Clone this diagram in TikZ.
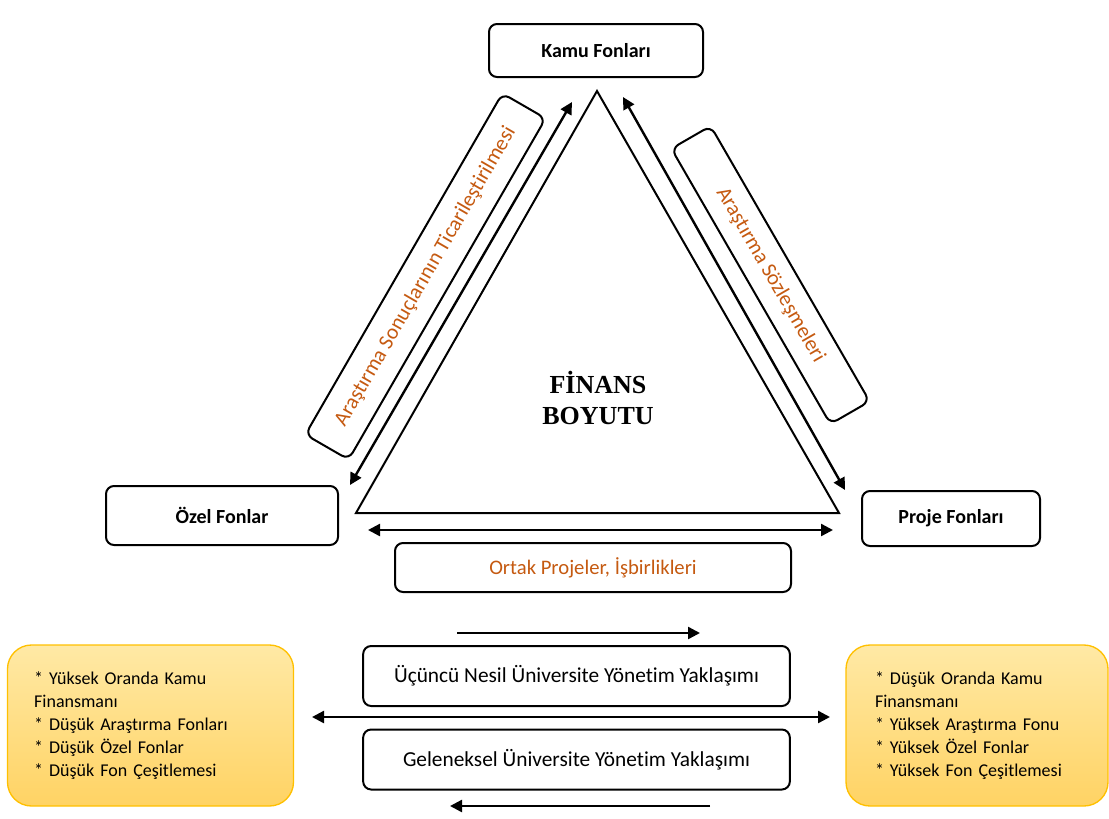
\documentclass[tikz,border=0pt]{standalone}
\usepackage{fontspec}
\setmainfont{Carlito}[Ligatures=NoCommon]
\newfontfamily\timesfont{Liberation Serif}
\usetikzlibrary{shapes}
\usetikzlibrary{arrows.meta}
\definecolor{etiketturuncu}{RGB}{197,90,17}
\definecolor{notkenar}{RGB}{255,192,0}
\definecolor{notust}{RGB}{255,233,165}
\definecolor{notalt}{RGB}{255,211,100}
\tikzset{
	kutu/.style = {align=center, inner sep=0pt, text centered, draw=black,
		line width=1.5pt, rounded corners=6pt},
	kutu_fon/.style = {kutu, font=\bfseries\fontsize{15}{18}\selectfont},% fon kutusu
	kutu_etiket/.style = {kutu, text=etiketturuncu,
		font=\fontsize{16}{19}\selectfont},% turuncu etiket
	kutu_yaklasim/.style = {kutu, minimum width=320pt, minimum height=45pt,
		font=\fontsize{16}{19}\selectfont},% yonetim yaklasimi
	kutu_not/.style = {align=left, inner ysep=0pt, draw=notkenar, line width=1pt,
		rounded corners=18pt, top color=notust, bottom color=notalt,
		minimum height=120.75pt, font=\fontsize{13.5}{17.25}\selectfont},% sari not
	akis/.style = {line width=1.8pt}
}
\begin{document}
\begin{tikzpicture}[x=0.75pt,y=-0.75pt,>={Triangle[length=9pt,width=9pt]}]
	\useasboundingbox (0,0) rectangle (1109,818);
	% fonlar
	\node [kutu_fon, minimum width=160.5pt, minimum height=39.75pt] (kamu) at (596,50.5) {Kamu Fonları};
	\node [kutu_fon, minimum width=174pt, minimum height=44.25pt] (ozel) at (222,515.5) {Özel Fonlar};
	\node [kutu_fon, minimum width=133.5pt, minimum height=41.25pt] (proje) at (951,518.5) {Proje Fonları};
	% ucgen
	\coordinate (tepe) at (597,91);
	\coordinate (solalt) at (356,513);
	\coordinate (sagalt) at (839,513);
	\draw [line width=1.5pt] (tepe) -- (solalt) -- (sagalt) -- cycle;
	\node [align=center, font=\timesfont\bfseries\fontsize{19.5}{23}\selectfont] (finans) at (598,398) {FİNANS\\BOYUTU};
	% etiketler
	\node [kutu_etiket, rotate=60, minimum width=295.5pt, minimum height=37.5pt] (ticari) at (425.5,276.5) {Araştırma Sonuçlarının Ticarileştirilmesi};
	\node [kutu_etiket, rotate=-60, minimum width=238.5pt, minimum height=34pt] (sozlesme) at (770.5,275) {Araştırma Sözleşmeleri};
	\node [kutu_etiket, minimum width=297pt, minimum height=36.75pt, font=\fontsize{15.5}{18}\selectfont] (ortak) at (593,567.5) {Ortak Projeler, İşbirlikleri};
	% oklar
	\coordinate (s1) at (350,485);
	\coordinate (s2) at (572,102);
	\coordinate (r1) at (623,97);
	\coordinate (r2) at (845,490);
	\coordinate (b1) at (368,530);
	\coordinate (b2) at (833,530);
	\draw [akis,<->] (s1) -- (s2);
	\draw [akis,<->] (r1) -- (r2);
	\draw [akis,<->] (b1) -- (b2);
	% yaklasimlar
	\node [kutu_yaklasim] (ucuncu) at (576.5,676) {Üçüncü Nesil Üniversite Yönetim Yaklaşımı};
	\node [kutu_yaklasim] (geleneksel) at (576.5,759.5) {Geleneksel Üniversite Yönetim Yaklaşımı};
	\coordinate (u1) at (457,633);
	\coordinate (u2) at (700,633);
	\coordinate (o1) at (312,717);
	\coordinate (o2) at (830,717);
	\coordinate (g1) at (710,806);
	\coordinate (g2) at (450,806);
	\draw [akis,->] (u1) -- (u2);
	\draw [akis,<->] (o1) -- (o2);
	\draw [akis,->] (g1) -- (g2);
	% notlar
	\node [kutu_not, inner xsep=20pt, text width=174.5pt] (geleneksel_not) at (150.5,725.5)
		{{*} Yüksek Oranda Kamu\\Finansmanı\\{*} Düşük Araştırma Fonları\\{*} Düşük Özel Fonlar\\{*} Düşük Fon Çeşitlemesi};
	\node [kutu_not, inner xsep=21.75pt, text width=153pt] (ucuncu_not) at (977,725.5)
		{{*} Düşük Oranda Kamu\\Finansmanı\\{*} Yüksek Araştırma Fonu\\{*} Yüksek Özel Fonlar\\{*} Yüksek Fon Çeşitlemesi};
\end{tikzpicture}
\end{document}
